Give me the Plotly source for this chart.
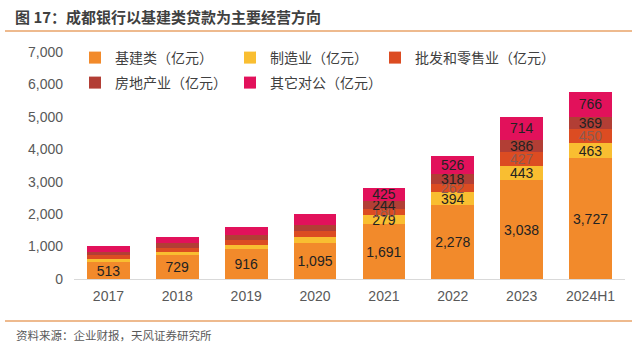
import plotly.graph_objects as go

categories = ["2017", "2018", "2019", "2020", "2021", "2022", "2023", "2024H1"]
infra = [513, 729, 916, 1095, 1691, 2278, 3038, 3727]
manufacturing = [110, 110, 140, 190, 279, 394, 443, 463]
wholesale = [120, 130, 150, 190, 180, 262, 427, 450]
realestate = [90, 130, 150, 190, 244, 318, 386, 369]
other = [180, 200, 255, 330, 425, 526, 714, 766]
label_from = 4  # only 2021 onward labelled for non-infra segments

names = ["基建类（亿元）", "制造业（亿元）", "批发和零售业（亿元）", "房地产业（亿元）", "其它对公（亿元）"]
series = [infra, manufacturing, wholesale, realestate, other]
colors = ["#F28A2B", "#F9BE31", "#DC4C22", "#B23E35", "#E2115B"]
text_colors = ["#222222", "#222222", "#8C5A50", "#222222", "#222222"]
legend_ids = ["legend", "legend", "legend3", "legend2", "legend2"]

FONT = "Liberation Sans, Arial, Noto Sans CJK SC, sans-serif"
CJK = "Noto Sans CJK SC, sans-serif"

fig = go.Figure()
for i, (nm, vals, col, tc, lg) in enumerate(zip(names, series, colors, text_colors, legend_ids)):
    if i == 0:
        txt = [f"{v:,}" for v in vals]
    else:
        txt = [f"{v:,}" if j >= label_from else "" for j, v in enumerate(vals)]
    fig.add_trace(go.Bar(
        x=categories, y=vals, name=nm, legend=lg,
        marker=dict(color=col, line=dict(width=0)),
        text=txt, textposition="inside", insidetextanchor="middle",
        textfont=dict(color=tc, size=14, family=FONT),
        constraintext="none", hoverinfo="skip",
    ))

PW, PH, L, T = 551, 227, 74, 52
def px(x):
    return (x - L) / PW
def py(y):
    return 1 + (T - y) / PH

leg_common = dict(
    orientation="h", xanchor="left", yanchor="top", traceorder="normal",
    itemwidth=30, font=dict(size=14, color="#404040", family=CJK),
    bgcolor="rgba(0,0,0,0)", tracegroupgap=0, itemclick=False,
)

fig.update_layout(
    barmode="stack", bargap=0.38,
    width=640, height=351,
    margin=dict(l=L, r=15, t=T, b=72),
    paper_bgcolor="white", plot_bgcolor="white",
    font=dict(family=FONT, color="#595959", size=14),
    uniformtext=dict(minsize=14, mode="show"),
    showlegend=True,
    legend=dict(x=px(75), y=py(42), entrywidth=110, entrywidthmode="pixels", **leg_common),
    legend3=dict(x=px(375), y=py(42), **leg_common),
    legend2=dict(x=px(75), y=py(67), entrywidth=110, entrywidthmode="pixels", **leg_common),
    xaxis=dict(
        showgrid=False, showline=True, linecolor="#D9D9D9", linewidth=1,
        ticks="", tickfont=dict(size=14, color="#595959"), ticklabelstandoff=4,
    ),
    yaxis=dict(
        range=[0, 7000], dtick=1000, tickformat=",d",
        showgrid=False, showline=False, zeroline=False, ticks="",
        tickfont=dict(size=14, color="#595959"), ticklabelstandoff=10,
    ),
    annotations=[
        dict(text="<b>图 17：成都银行以基建类贷款为主要经营方向</b>", xref="paper", yref="paper",
             x=px(13), y=py(16), xanchor="left", yanchor="middle", showarrow=False,
             font=dict(size=15, color="#404040", family=CJK)),
        dict(text="资料来源：企业财报，天风证券研究所", xref="paper", yref="paper",
             x=px(14), y=py(335), xanchor="left", yanchor="middle", showarrow=False,
             font=dict(size=11.5, color="#595959", family=CJK)),
    ],
    shapes=[
        dict(type="line", xref="paper", yref="paper", x0=px(5), x1=px(632),
             y0=py(31), y1=py(31), line=dict(color="#E8A368", width=1.5)),
        dict(type="line", xref="paper", yref="paper", x0=px(5), x1=px(632),
             y0=py(321), y1=py(321), line=dict(color="#E8A368", width=1.5)),
    ],
)

fig.write_html("out.html")
